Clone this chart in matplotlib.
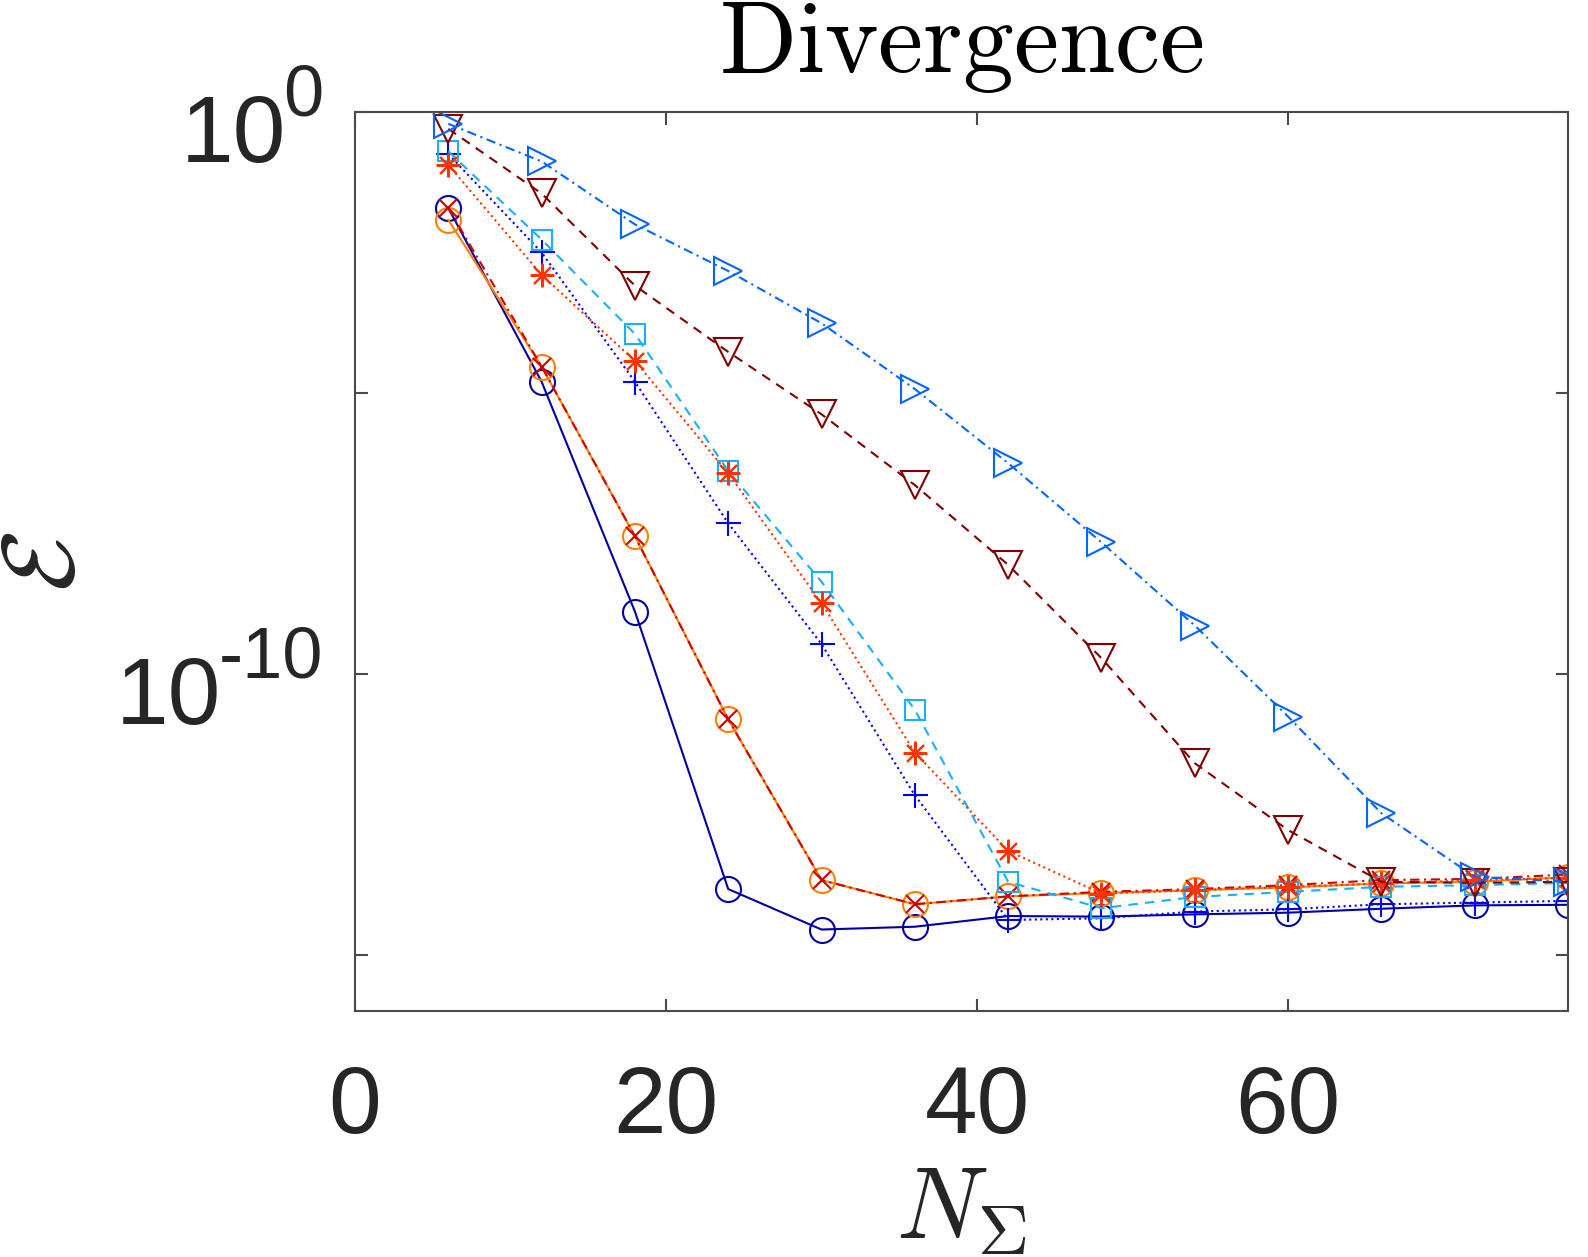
import numpy as np
import matplotlib
matplotlib.use("Agg")
import matplotlib.pyplot as plt
import matplotlib.transforms as mtransforms
from matplotlib.ticker import NullLocator, FixedLocator, FixedFormatter, NullFormatter

plt.rcParams['font.family'] = ['Liberation Sans', 'DejaVu Sans']

# ---- data (log10 of error) ----
N = [6, 12, 18, 24, 30, 36, 42, 48, 54, 60, 66, 72, 78]
log_navy_o = [-1.71, -4.80, -8.89, -13.83, -14.55, -14.50, -14.31, -14.32, -14.28, -14.25, -14.18, -14.12, -14.11]
log_orange_o = [-1.92, -4.53, -7.55, -10.81, -13.67, -14.10, -13.96, -13.90, -13.85, -13.80, -13.73, -13.70, -13.62]
log_red_x = [-1.71, -4.53, -7.55, -10.81, -13.67, -14.10, -13.96, -13.88, -13.83, -13.76, -13.67, -13.65, -13.57]
log_blue_plus = [-0.75, -2.50, -4.80, -7.32, -9.47, -12.16, -14.38, -14.35, -14.23, -14.19, -14.10, -14.07, -14.04]
log_lblue_sq = [-0.70, -2.27, -3.95, -6.39, -8.36, -10.64, -13.70, -14.17, -13.97, -13.88, -13.79, -13.76, -13.72]
log_red_star = [-0.94, -2.90, -4.43, -6.43, -8.74, -11.40, -13.15, -13.91, -13.85, -13.79, -13.73, -13.67, -13.63]
log_dred_v = [-0.30, -1.45, -3.09, -4.27, -5.38, -6.64, -8.06, -9.72, -11.59, -12.78, -13.70, -13.72, -13.70]
log_blue_tri = [-0.21, -0.88, -2.00, -2.83, -3.76, -4.93, -6.25, -7.66, -9.14, -10.76, -12.48, -13.61, -13.70]

xticks = [0, 20, 40, 60]
xticklabels = ['0', '20', '40', '60']
yticks = [1e-15, 1e-10, 1e-5, 1e0]
ylabel_ticks = [1e-10, 1e0]
ylabel_base = ['10', '10']
ylabel_exp = ['-10', '0']

fig = plt.figure(figsize=(15.88, 12.57), dpi=100)
ax = fig.add_axes([355/1588, 1 - 1011/1257, (1568-355)/1588, (1011-112)/1257])

lw = 1.5
mew = 1.5
series = [
    (log_navy_o,    '#0000A6', '-',  'o', 18),
    (log_orange_o,  '#FF8000', '-',  'o', 18),
    (log_red_x,     '#D00000', '-.', 'x', 13),
    (log_blue_plus, '#0000FF', ':',  '+', 18),
    (log_lblue_sq,  '#16B0FF', '--', 's', 15),
    (log_red_star,  '#FF3300', ':',  (8, 2, 0), 17),
    (log_dred_v,    '#800000', '--', 'v', 20),
    (log_blue_tri,  '#0066FF', '-.', '>', 20),
]
for vals, col, ls, mk, ms in series:
    line, = ax.plot(N, 10.0 ** np.array(vals), color=col, linestyle=ls, linewidth=lw,
                    marker=mk, markersize=ms, markerfacecolor='none',
                    markeredgecolor=col, markeredgewidth=mew)
    if ls == '--':
        line.set_dashes((4.5, 3.5))
    elif ls == '-.':
        line.set_dashes((4.5, 2.2, 1, 2.2))

ax.set_yscale('log')
ax.set_xlim(0, 78)
ax.set_ylim(1e-16, 1e0)
ax.xaxis.set_major_locator(FixedLocator(xticks))
ax.xaxis.set_major_formatter(FixedFormatter(xticklabels))
ax.yaxis.set_major_locator(FixedLocator(yticks))
ax.yaxis.set_major_formatter(NullFormatter())
ax.yaxis.set_minor_locator(NullLocator())
ax.xaxis.set_minor_locator(NullLocator())
ax.yaxis.set_minor_formatter(NullFormatter())

axcol = '#4A4A4A'
for sp in ax.spines.values():
    sp.set_color(axcol)
    sp.set_linewidth(1.5)
ax.tick_params(axis='both', which='major', direction='in', length=9, width=1.5,
               color=axcol, labelcolor='#262626', labelsize=68,
               top=True, right=True)
ax.tick_params(axis='x', pad=38)

# y tick labels as base + superscript exponent
blend = mtransforms.blended_transform_factory(ax.transAxes, ax.transData)
exp_texts = []
for yv, ex in zip(ylabel_ticks, ylabel_exp):
    off = mtransforms.ScaledTranslation(-32 / fig.dpi, -4 / fig.dpi, fig.dpi_scale_trans)
    t = ax.text(0, yv, ex, transform=blend + off, ha='right', va='baseline',
                fontsize=52, color='#262626', clip_on=False)
    exp_texts.append(t)
fig.canvas.draw()
renderer = fig.canvas.get_renderer()
for yv, base, t in zip(ylabel_ticks, ylabel_base, exp_texts):
    w = t.get_window_extent(renderer).width
    off = mtransforms.ScaledTranslation((-32 - w + 3) / fig.dpi, -50 / fig.dpi, fig.dpi_scale_trans)
    ax.text(0, yv, base, transform=blend + off, ha='right', va='baseline',
            fontsize=68, color='#262626', clip_on=False)

ax.set_title(r'$\mathrm{Divergence}$', fontsize=73, math_fontfamily='cm',
             pad=29, color='black')
ax.set_xlabel(r'$N_\Sigma$', fontsize=73, math_fontfamily='cm', color='#262626', labelpad=8)
ax.set_ylabel(r'$\mathcal{E}$', fontsize=73, math_fontfamily='cm', color='#262626')
ax.yaxis.set_label_coords(-0.2145, 0.5)

fig.savefig('out.png', dpi=100, facecolor='white')
